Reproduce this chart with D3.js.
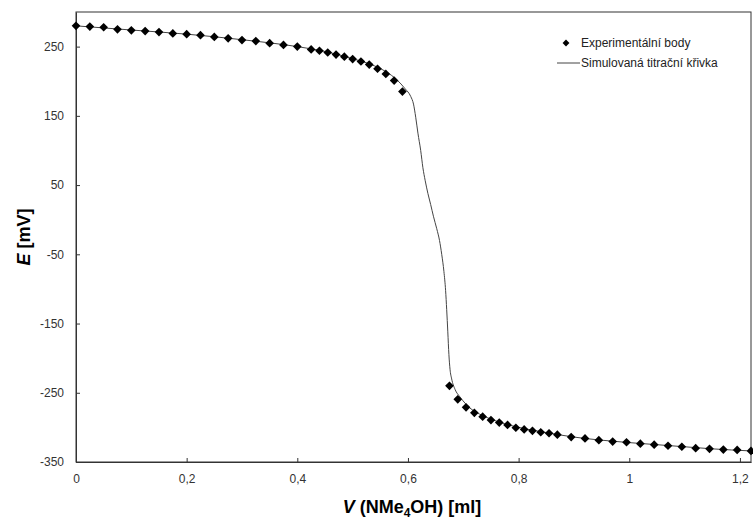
<!DOCTYPE html>
<html>
<head>
<meta charset="utf-8">
<script src="https://cdn.jsdelivr.net/npm/d3@7"></script>
<style>
  body { margin: 0; background: #fff; }
  svg { display: block; font-family: "Liberation Sans", Arial, sans-serif; }
  .tick text { fill: #333; font-size: 12px; }
  .axis-title { font-family: "Liberation Sans", Arial, sans-serif; font-weight: bold; font-size: 18px; fill: #000; }
</style>
</head>
<body>
<svg id="chart" width="753" height="521"></svg>
<script>
// measured points: V [ml], E [mV]
var expV = [0, 0.025, 0.05, 0.075, 0.1, 0.125, 0.15, 0.175, 0.2, 0.225, 0.25, 0.275, 0.3,
  0.325, 0.35, 0.375, 0.4, 0.425, 0.44, 0.455, 0.47, 0.485, 0.5, 0.515, 0.53, 0.545, 0.56, 0.575, 0.59,
  0.675, 0.69, 0.705, 0.72, 0.735, 0.75, 0.765, 0.78, 0.795, 0.81, 0.825, 0.84, 0.855, 0.87,
  0.895, 0.92, 0.945, 0.97, 0.995, 1.02, 1.045, 1.07, 1.095, 1.12, 1.145, 1.17, 1.195, 1.22];
var expE = [280, 279, 278, 275, 273.5, 272.5, 271, 269, 268, 266.5, 264, 262, 259.5,
  258, 255, 252.5, 250, 246, 244, 241.5, 238.5, 235.5, 232, 228.5, 224, 218, 210.5, 201, 185,
  -240, -259.5, -271, -279, -284.5, -289.5, -293, -296.5, -300.5, -303, -305, -307, -308.5, -310.5,
  -314, -316, -318.5, -320.5, -321.5, -323.5, -325, -326.5, -328, -330, -331, -332, -332.5, -334];

// simulated titration curve
var simV = [0, 0.1, 0.2, 0.3, 0.4, 0.45, 0.5, 0.54, 0.56, 0.58, 0.595, 0.605, 0.61, 0.614, 0.618,
  0.623, 0.627, 0.631, 0.636, 0.641, 0.646, 0.652, 0.657, 0.661, 0.665, 0.668, 0.67, 0.672, 0.674, 0.676, 0.679,
  0.685, 0.694, 0.712, 0.735, 0.76, 0.8, 0.85, 0.9, 0.95, 1.0, 1.05, 1.1, 1.15, 1.22];
var simE = [280, 274, 268, 260, 250, 243, 232.5, 222, 214, 202, 189, 178, 167, 148, 125,
  100, 75, 57, 38, 22, 5, -13, -30, -50, -75, -102, -130, -162, -195, -216, -230,
  -245, -256, -272, -283, -291, -300, -307.5, -314, -318.5, -322, -325, -328, -331, -334];

var xTicks = [0, 0.2, 0.4, 0.6, 0.8, 1, 1.2];
var yTicks = [-350, -250, -150, -50, 50, 150, 250];
var legendLabels = ["Experimentální body", "Simulovaná titrační křivka"];

var margin = {top: 12, right: 2, bottom: 59, left: 76},
  W = 753, H = 521,
  width = W - margin.left - margin.right,
  height = H - margin.top - margin.bottom;

var svg = d3.select("#chart");
var g = svg.append("g").attr("transform", "translate(" + margin.left + "," + margin.top + ")");

var x = d3.scaleLinear().domain([0, 1.22]).range([0, width]);
var y = d3.scaleLinear().domain([-350, 300]).range([height, 0]);
var fmt = d3.format(".1~f");
var comma = function(d) { return fmt(d).replace(".", ","); };

// frame
g.append("rect").attr("width", width).attr("height", height)
  .attr("fill", "none").attr("stroke", "#333").attr("stroke-width", 1);

// axes
var xAxis = g.append("g").attr("transform", "translate(0," + height + ")")
  .call(d3.axisBottom(x).tickValues(xTicks).tickFormat(comma).tickSizeInner(-4).tickSizeOuter(0).tickPadding(12));
var yAxis = g.append("g")
  .call(d3.axisLeft(y).tickValues(yTicks).tickFormat(function(d) { return String(d); })
    .tickSizeInner(-4).tickSizeOuter(0).tickPadding(12));
[xAxis, yAxis].forEach(function(a) {
  a.select(".domain").attr("stroke", "#333");
  a.selectAll(".tick line").attr("stroke", "#333");
  a.selectAll(".tick text").attr("font-family", "Liberation Sans, Arial, sans-serif");
});

// simulated curve
var sim = simV.map(function(v, i) { return [v, simE[i]]; });
g.append("path").datum(sim)
  .attr("fill", "none").attr("stroke", "#444").attr("stroke-width", 1)
  .attr("d", d3.line().x(function(d) { return x(d[0]); }).y(function(d) { return y(d[1]); }).curve(d3.curveMonotoneX));

// experimental points
var diamond = d3.symbol().type(d3.symbolDiamond2).size(48);
g.selectAll("path.pt").data(expV.map(function(v, i) { return [v, expE[i]]; }))
  .enter().append("path").attr("class", "pt")
  .attr("d", diamond)
  .attr("fill", "#000")
  .attr("transform", function(d) { return "translate(" + x(d[0]) + "," + y(d[1]) + ")"; });

// legend
var lg = svg.append("g").attr("transform", "translate(566,43)");
lg.append("path").attr("d", d3.symbol().type(d3.symbolDiamond2).size(30)).attr("fill", "#000");
lg.append("line").attr("x1", -9).attr("x2", 14).attr("y1", 20).attr("y2", 20).attr("stroke", "#444");
lg.selectAll("text").data(legendLabels).enter().append("text")
  .attr("x", 15).attr("y", function(d, i) { return i * 20 + 4; })
  .attr("font-size", 12).attr("fill", "#222").text(function(d) { return d; });

// axis titles
var xt = svg.append("text").attr("class", "axis-title").attr("x", 412).attr("y", 513).attr("text-anchor", "middle");
xt.append("tspan").attr("font-style", "italic").text("V");
xt.append("tspan").text(" (NMe");
xt.append("tspan").attr("font-size", 12).attr("dy", 4).text("4");
xt.append("tspan").attr("dy", -4).text("OH) [ml]");

var yt = svg.append("text").attr("class", "axis-title").attr("transform", "translate(30,237) rotate(-90)").attr("text-anchor", "middle");
yt.append("tspan").attr("font-style", "italic").text("E");
yt.append("tspan").text(" [mV]");
</script>
</body>
</html>
